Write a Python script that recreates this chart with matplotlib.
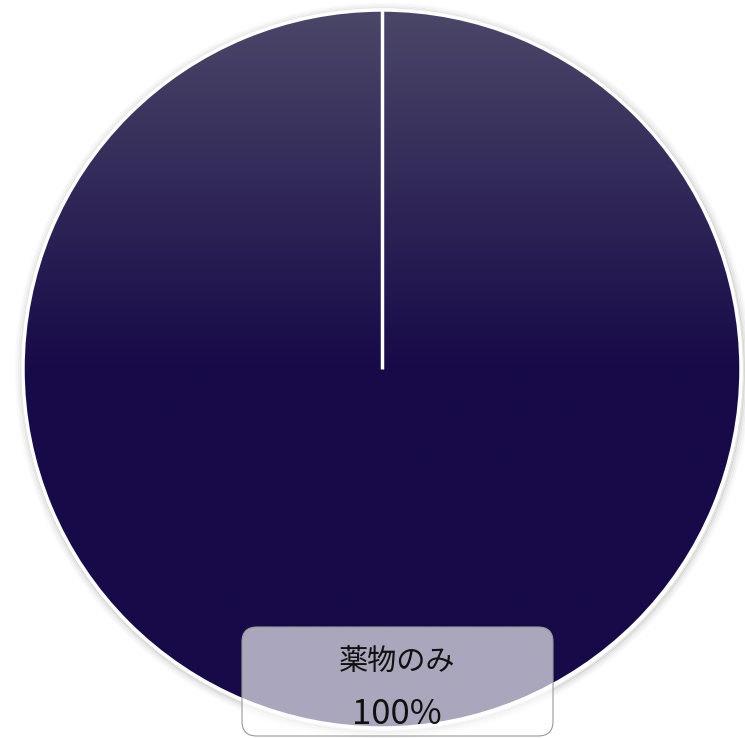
import numpy as np
import matplotlib
matplotlib.use("Agg")
import matplotlib.pyplot as plt
from matplotlib.patches import FancyBboxPatch, Circle
from matplotlib.colors import to_rgb

plt.rcParams['font.family'] = ['Noto Sans CJK JP', 'DejaVu Sans']

categories = ["薬物のみ"]
values = [100]
pct_labels = ["100%"]

W, H = 745, 738
cx, cy, R = 382, 369, 359

fig = plt.figure(figsize=(W / 100, H / 100), dpi=100)
ax = fig.add_axes([0, 0, 1, 1])

wedges, _ = ax.pie(values, radius=1, center=(0, 0), startangle=90,
                   counterclock=False,
                   wedgeprops=dict(edgecolor='white', linewidth=2.5))
ax.set_xlim(-cx / R, (W - cx) / R)
ax.set_ylim(-(H - cy) / R, cy / R)
ax.set_aspect('auto')
ax.axis('off')

# soft shadow
for i, a in enumerate([0.14, 0.09, 0.06, 0.035, 0.02]):
    ax.add_patch(Circle((0.003, -0.005), 1 + 0.0045 * (i + 1), facecolor='none',
                        edgecolor=(0.25, 0.25, 0.25, a), linewidth=1.8, zorder=0))

# gradient fill clipped to wedge
top = np.array(to_rgb('#4b4768'))
bot = np.array(to_rgb('#170a48'))
ny = 400
ys = np.linspace(1, -1, ny)
t = np.clip(1 - ys, 0, 1)  # 0 at top, 1 at center
img = (top[None, :] * (1 - t[:, None]) + bot[None, :] * t[:, None])
img = np.repeat(img[:, None, :], 4, axis=1)
w = wedges[0]
w.set_facecolor('none')
im = ax.imshow(img, extent=(-1, 1, -1, 1), aspect='auto', zorder=1,
               interpolation='bilinear')
im.set_clip_path(w)
w.set_zorder(2)

# radial separator line for the single slice
ax.plot([0, 0], [0, 1], color='white', linewidth=2.5, zorder=3,
        solid_capstyle='butt')

# label box (pixel coords -> figure fraction)
bx0, bx1, by0, by1 = 242, 553, 627, 736
box = FancyBboxPatch((bx0 / W, 1 - by1 / H), (bx1 - bx0) / W, (by1 - by0) / H,
                     boxstyle="round,pad=0,rounding_size=0.02",
                     transform=fig.transFigure, facecolor=(1, 1, 1, 0.64),
                     edgecolor='#9a9a9a', linewidth=0.8, zorder=5)
fig.patches.append(box)

fig.text(397 / W, 1 - 662 / H, categories[0], ha='center', va='center',
         fontsize=21, color='#111111', zorder=6)
fig.text(397 / W, 1 - 714 / H, pct_labels[0], ha='center', va='center',
         fontsize=25, color='#111111', zorder=6)

fig.savefig('out.png', dpi=100)
